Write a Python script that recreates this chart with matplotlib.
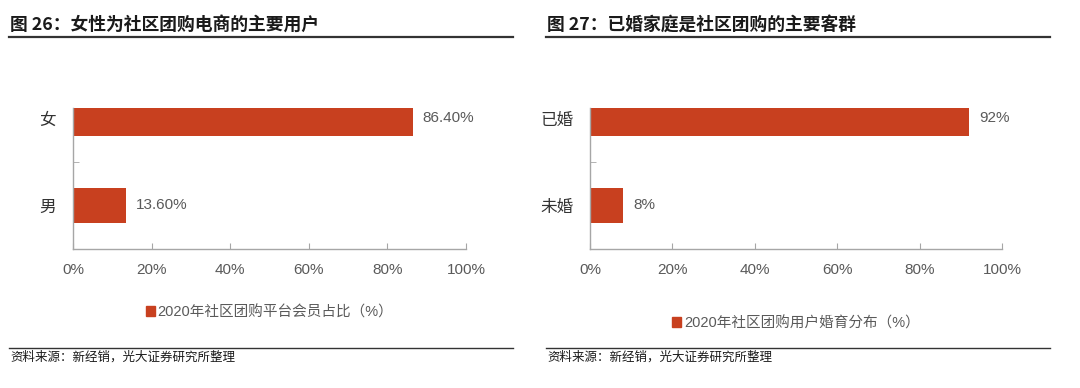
import numpy as np
import matplotlib
matplotlib.use("Agg")
import matplotlib.pyplot as plt
from matplotlib.patches import Patch

plt.rcParams['font.family'] = ['Noto Sans CJK SC', 'DejaVu Sans']
latin = ['Liberation Sans', 'Noto Sans CJK SC']

# data
gender_cats = ['女', '男']
gender_vals = [86.4, 13.6]
gender_labels = ['86.40%', '13.60%']
marry_cats = ['已婚', '未婚']
marry_vals = [92, 8]
marry_labels = ['92%', '8%']
xticks = [0, 20, 40, 60, 80, 100]

titles = ['图 26：女性为社区团购电商的主要用户', '图 27：已婚家庭是社区团购的主要客群']
legends = ['2020年社区团购平台会员占比（%）', '2020年社区团购用户婚育分布（%）']
source = '资料来源：新经销，光大证券研究所整理'

W, H = 1080, 388
bar_color = '#C8401F'
axis_grey = '#A6A6A6'
text_grey = '#5a5a5a'

fig = plt.figure(figsize=(W / 100, H / 100), dpi=100)


def px(x0, y0, w, h):
    # pixel box (top-left origin) -> figure fraction
    return [x0 / W, 1 - (y0 + h) / H, w / W, h / H]


def draw_panel(box, cats, vals, labels, legend_txt, legend_y):
    ax = fig.add_axes(px(*box))
    y = np.arange(len(cats))
    ax.barh(y, vals, height=0.4, color=bar_color, label=legend_txt)
    for yi, v, t in zip(y, vals, labels):
        ax.text(v + 2.5, yi, t, va='center', ha='left', fontsize=11,
                color=text_grey, family=latin)
    ax.set_xlim(0, 100)
    # top of the value axis sits at the top of the first bar, as in the source
    ax.set_ylim(len(cats) - 0.5, -0.12)
    ax.set_xticks(xticks)
    ax.set_xticklabels([f'{t}%' for t in xticks], fontsize=11, color=text_grey, family=latin)
    ax.set_yticks(y)
    ax.set_yticklabels(cats, fontsize=12, color='#333333')
    ax.set_yticks([0.5], minor=True)
    ax.tick_params(axis='y', which='major', length=0, pad=12)
    ax.tick_params(axis='y', which='minor', direction='in', length=4, color=axis_grey)
    ax.tick_params(axis='x', direction='in', length=4, color=axis_grey, pad=10)
    for s in ['top', 'right']:
        ax.spines[s].set_visible(False)
    for s in ['left', 'bottom']:
        ax.spines[s].set_color(axis_grey)
        ax.spines[s].set_linewidth(1)
    cx = (box[0] + box[2] / 2) / W
    fig.legend(handles=[Patch(color=bar_color)], labels=[legend_txt],
               loc='center', bbox_to_anchor=(cx, 1 - legend_y / H),
               frameon=False, handlelength=0.6, handleheight=0.6,
               handletextpad=0.2, labelcolor=text_grey,
               prop={'family': latin, 'size': 10.5})
    return ax


draw_panel((73, 108, 393, 141), gender_cats, gender_vals, gender_labels, legends[0], 312)
draw_panel((590, 108, 412, 141), marry_cats, marry_vals, marry_labels, legends[1], 323)

# titles, rules and source
for x0, x1, title in [(9, 513, titles[0]), (546, 1050, titles[1])]:
    fig.text(x0 / W + 0.001, 1 - 25 / H, title, fontsize=12.8, fontweight='bold',
             va='center', ha='left', color='#1a1a1a')
    fig.add_artist(plt.Line2D([x0 / W, x1 / W], [1 - 37 / H] * 2, color='#333333', lw=1.6))
    fig.add_artist(plt.Line2D([x0 / W, x1 / W], [1 - 348 / H] * 2, color='#333333', lw=1))
    fig.text(x0 / W + 0.001, 1 - 357 / H, source, fontsize=9, va='center', ha='left',
             color='#1a1a1a')

fig.savefig('out.png', dpi=100)
